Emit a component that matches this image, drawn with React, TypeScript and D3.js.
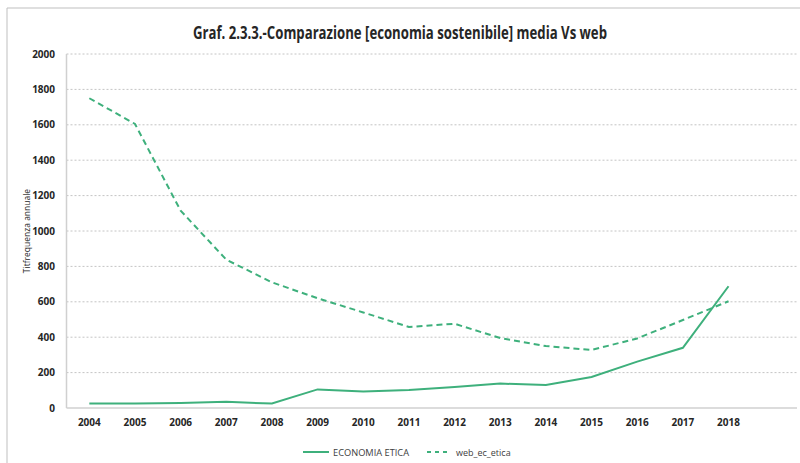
import React from "react";
import * as d3 from "d3";

const years = ["2004","2005","2006","2007","2008","2009","2010","2011","2012","2013","2014","2015","2016","2017","2018"];
const economiaEtica = [25, 25, 28, 35, 25, 105, 93, 102, 118, 138, 130, 175, 262, 340, 688];
const webEcEtica = [1750, 1605, 1115, 838, 710, 620, 540, 458, 476, 395, 350, 328, 393, 497, 603];
const yTicks = [0, 200, 400, 600, 800, 1000, 1200, 1400, 1600, 1800, 2000];
const title = "Graf. 2.3.3.-Comparazione [economia sostenibile] media Vs web";
const yLabel = "Titfrequenza annuale";
const legendNames = ["ECONOMIA ETICA", "web_ec_etica"];

const W = 800, H = 463;
const left = 66.5, right = 797, top = 54, bottom = 408;
const green = "#3eb07c";
const font = "'Open Sans', 'Noto Sans', sans-serif";

export default function App() {
  const x = d3.scaleBand<string>().domain([...years, "_empty"]).range([left, right]);
  const cx = (i: number) => (x(years[i]) as number) + x.bandwidth() / 2;
  const y = d3.scaleLinear().domain([0, 2000]).range([bottom, top]);
  const line = d3.line<number>().x((_, i) => cx(i)).y((d) => y(d));

  return (
    <svg width={W} height={H} style={{ position: "absolute", left: 0, top: 0, background: "#fff" }}>
      <rect x={0} y={0} width={W} height={H} fill="#fff" />
      {/* outer border */}
      <line x1={7} y1={8} x2={W} y2={8} stroke="#bfbfbf" strokeWidth={1} />
      <line x1={7} y1={8} x2={7} y2={H} stroke="#bfbfbf" strokeWidth={1} />
      <text x={400} y={39} textAnchor="middle" fontFamily={font} fontWeight={700} fontSize={17} textLength={414} lengthAdjust="spacingAndGlyphs" fill="#262626">{title}</text>
      {/* gridlines */}
      {yTicks.filter((t) => t > 0).map((t) => (
        <line key={t} x1={left} x2={right} y1={y(t)} y2={y(t)} stroke="#c4c4c4" strokeWidth={1} strokeDasharray="2,2" />
      ))}
      {/* axes */}
      <line x1={left} x2={left} y1={top} y2={bottom} stroke="#d0d0d0" strokeWidth={1.5} />
      <line x1={left} x2={right} y1={bottom} y2={bottom} stroke="#d0d0d0" strokeWidth={1.5} />
      {yTicks.map((t) => (
        <text key={t} x={55} y={y(t) + 3.5} textAnchor="end" fontFamily={font} fontWeight={700} fontSize={10} fill="#262626">{t}</text>
      ))}
      {years.map((yr, i) => (
        <text key={yr} x={cx(i)} y={426} textAnchor="middle" fontFamily={font} fontWeight={700} fontSize={10} fill="#262626">{yr}</text>
      ))}
      <text transform={`translate(30,${(top + bottom) / 2}) rotate(-90)`} textAnchor="middle" fontFamily={font} fontSize={8.5} fill="#262626">{yLabel}</text>
      {/* series */}
      <path d={line(economiaEtica) as string} fill="none" stroke={green} strokeWidth={2} />
      <path d={line(webEcEtica) as string} fill="none" stroke={green} strokeWidth={2} strokeDasharray="6,4" />
      {/* legend */}
      <line x1={303} x2={329} y1={452} y2={452} stroke={green} strokeWidth={2} />
      <text x={333} y={455.5} fontFamily={font} fontSize={9} fill="#404040" textLength={76} lengthAdjust="spacingAndGlyphs">{legendNames[0]}</text>
      <line x1={427} x2={450} y1={452} y2={452} stroke={green} strokeWidth={2} strokeDasharray="4,4" />
      <text x={456} y={455.5} fontFamily={font} fontSize={9} fill="#404040">{legendNames[1]}</text>
    </svg>
  );
}
